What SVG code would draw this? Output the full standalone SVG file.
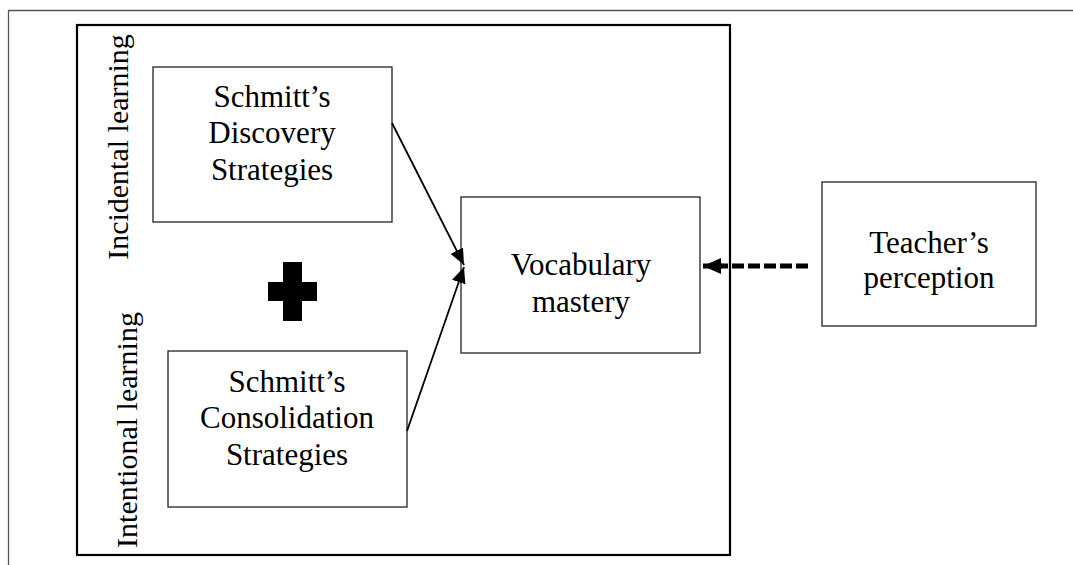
<svg xmlns="http://www.w3.org/2000/svg" width="1073" height="565" viewBox="0 0 1073 565">
<defs>
<style>
.box{fill:#fff;stroke:#222;stroke-width:1.3}
.t{font-family:"Liberation Serif","Times New Roman",serif;font-size:31px;fill:#000;text-anchor:middle}
.v{font-family:"Liberation Serif","Times New Roman",serif;font-size:30px;fill:#000;text-anchor:middle}
.conn{stroke:#000;stroke-width:1.8;fill:none}
</style>
<marker id="ah" viewBox="0 0 16 14" refX="16" refY="7" markerWidth="16" markerHeight="14" markerUnits="userSpaceOnUse" orient="auto">
<path d="M0,0 L16,7 L0,14 Z" fill="#000"/>
</marker>
<marker id="ah2" viewBox="0 0 18 16" refX="18" refY="8" markerWidth="18" markerHeight="16" markerUnits="userSpaceOnUse" orient="auto">
<path d="M0,0 L18,8 L0,16 Z" fill="#000"/>
</marker>
</defs>
<rect width="1073" height="565" fill="#fff"/>
<path d="M8.5,565 V10.5 H1073" fill="none" stroke="#555" stroke-width="1.3"/>
<g id="frame">
<rect x="77" y="25" width="653" height="530" fill="none" stroke="#000" stroke-width="2.2"/>
<text class="v" transform="translate(128,147) rotate(-90)">Incidental learning</text>
<text class="v" transform="translate(137,430) rotate(-90)">Intentional learning</text>
</g>
<g id="plus">
<rect x="283" y="262" width="19" height="59" fill="#000"/>
<rect x="268" y="282" width="49" height="19" fill="#000"/>
</g>
<g id="discovery">
<rect class="box" x="153" y="67" width="239" height="155"/>
<text class="t" x="272" y="107">Schmitt’s</text>
<text class="t" x="272" y="143">Discovery</text>
<text class="t" x="272" y="180">Strategies</text>
</g>
<g id="consolidation">
<rect class="box" x="168" y="351" width="239" height="156"/>
<text class="t" x="287" y="392">Schmitt’s</text>
<text class="t" x="287" y="428">Consolidation</text>
<text class="t" x="287" y="465">Strategies</text>
</g>
<g id="vocabulary">
<rect class="box" x="461" y="197" width="239" height="156"/>
<text class="t" x="581" y="275">Vocabulary</text>
<text class="t" x="581" y="312">mastery</text>
</g>
<g id="teacher">
<rect class="box" x="822" y="182" width="214" height="144"/>
<text class="t" x="929" y="253">Teacher’s</text>
<text class="t" x="929" y="288">perception</text>
</g>
<g id="connectors">
<line class="conn" x1="392" y1="123" x2="464" y2="265" marker-end="url(#ah)"/>
<line class="conn" x1="407" y1="431" x2="464" y2="267" marker-end="url(#ah)"/>
<line x1="808" y1="266" x2="720" y2="266" stroke="#000" stroke-width="5" stroke-dasharray="12 4"/>
<line x1="722" y1="266" x2="703" y2="266" stroke="#000" stroke-width="5" marker-end="url(#ah2)"/>
</g>
</svg>
